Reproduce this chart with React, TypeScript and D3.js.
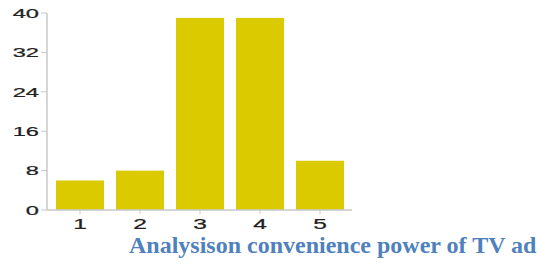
import React from "react";
import * as d3 from "d3";

const categories = ["1", "2", "3", "4", "5"];
const values = [6, 8, 39, 39, 10];
const yTicks = [0, 8, 16, 24, 32, 40];
const title = "Analysison convenience power of TV ad";

export default function App() {
  const W = 537, H = 266;
  const x = d3.scaleBand<string>().domain(categories).range([50, 350]).paddingInner(0.2).paddingOuter(0.1);
  const y = d3.scaleLinear().domain([0, 40]).range([210, 13]);
  const axisX = 47;
  const sx = 1.75;
  return (
    <svg width={W} height={H} style={{ position: "absolute", left: 0, top: 0 }}>
      <rect width={W} height={H} fill="#fff" />
      {categories.map((c, i) => (
        <rect key={c} x={x(c)} y={y(values[i])} width={x.bandwidth()} height={y(0) - y(values[i])} fill="#dbca00" />
      ))}
      <line x1={axisX} x2={axisX} y1={y(40)} y2={y(0)} stroke="#c8c8c8" strokeWidth={1.5} />
      <line x1={axisX} x2={352} y1={y(0)} y2={y(0)} stroke="#c8c8c8" strokeWidth={1.5} />
      {yTicks.map((t) => (
        <g key={t}>
          <line x1={axisX - 6} x2={axisX} y1={y(t)} y2={y(t)} stroke="#c8c8c8" strokeWidth={1} />
          <text
            transform={`translate(39,${y(t) + 4.7}) scale(${sx},1)`}
            textAnchor="end"
            fontFamily="Liberation Sans, Arial, sans-serif"
            fontSize={13.5}
            fontWeight={500}
            fill="#222"
            stroke="#222"
            strokeWidth={0.25}
          >
            {t}
          </text>
        </g>
      ))}
      {categories.map((c) => {
        const cx = (x(c) as number) + x.bandwidth() / 2;
        return (
          <g key={c}>
            <line x1={cx} x2={cx} y1={y(0)} y2={y(0) + 4} stroke="#c8c8c8" strokeWidth={1} />
            <text
              transform={`translate(${cx},${229}) scale(${sx},1)`}
              textAnchor="middle"
              fontFamily="Liberation Sans, Arial, sans-serif"
              fontSize={14}
              fill="#222"
              stroke="#222"
              strokeWidth={0.25}
            >
              {c}
            </text>
          </g>
        );
      })}
      <text x={129} y={253} fontFamily="Liberation Serif, Times New Roman, serif" fontWeight="bold" fontSize={24} fill="#4f81bd">
        {title}
      </text>
    </svg>
  );
}
